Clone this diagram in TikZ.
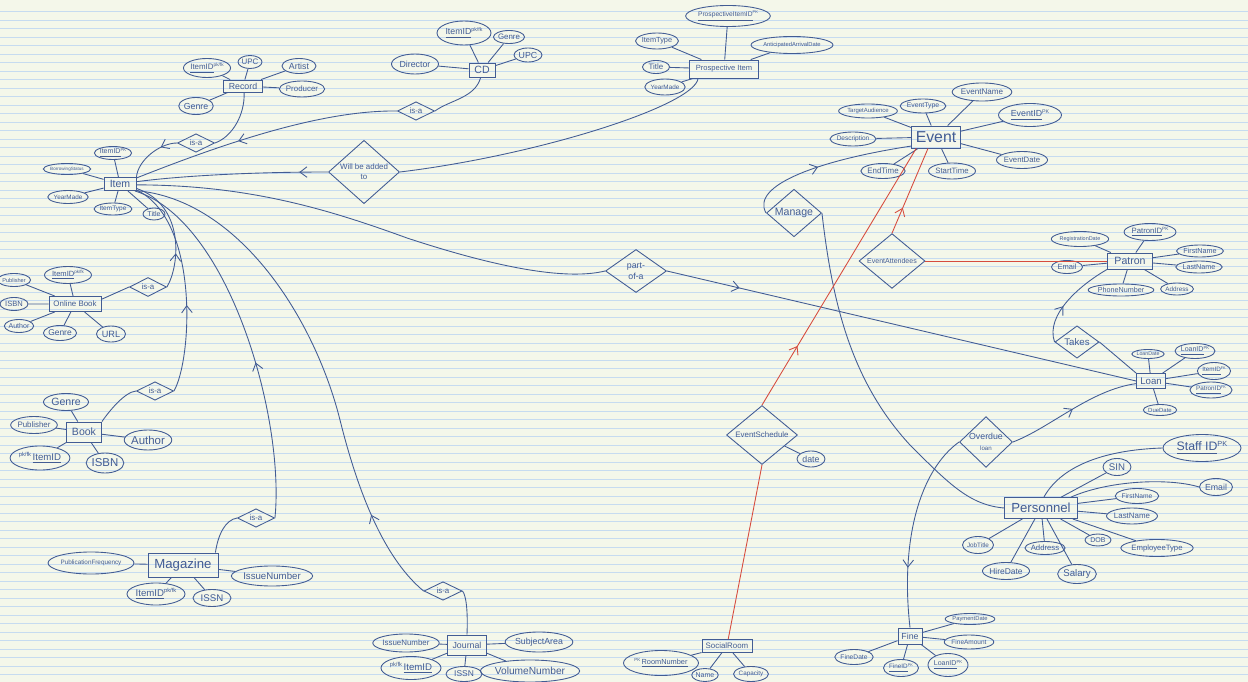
\documentclass[tikz,border=0pt]{standalone}
\usepackage{fontspec}
\usepackage{graphicx}
\setmainfont{Liberation Sans}
\usetikzlibrary{shapes.geometric,decorations.markings,arrows.meta}

\definecolor{paper}{RGB}{244,247,234}
\definecolor{rule}{RGB}{198,219,240}
\definecolor{ink}{RGB}{66,92,148}
\definecolor{redink}{RGB}{214,76,62}

\newcommand\pxu{0.02cm}
\newcommand\fs[1]{\fontsize{#1}{#1}\selectfont}
\newcommand\sk[1]{\raisebox{0.7ex}{\scalebox{0.6}{#1}}}

\tikzset{
  ent/.style n args={3}{rectangle, draw, inner sep=0pt,
    minimum width=#1*\pxu, minimum height=#2*\pxu, font=\fs{#3}},
  rel/.style n args={3}{diamond, draw, inner sep=0pt, align=center,
    minimum width=#1*\pxu, minimum height=#2*\pxu, font=\fs{#3}},
  attr/.style n args={3}{ellipse, draw, inner sep=0pt,
    minimum width=#1*\pxu, minimum height=#2*\pxu, font=\fs{#3}},
  midarrow/.style={postaction={decorate}, decoration={markings,
    mark=at position #1 with {\arrow{Straight Barb[length=4pt,width=6pt]}}}},
  midarrow/.default=0.5,
}

\begin{document}
\begin{tikzpicture}[x=0.02cm, y=-0.02cm, color=ink, line width=0.5pt]
\useasboundingbox (0,0) rectangle (1248,682);

% Paper
\fill[paper] (0,0) rectangle (1248,682);
\foreach \k in {0,...,78}
  \draw[rule, line width=0.4pt] (0,11.5+8.5*\k) -- (1248,11.5+8.5*\k);

% Entities
\node[ent={32}{13}{6}] (item) at (120,184) {Item};
\node[ent={39}{12}{5}] (record) at (243,86) {Record};
\node[ent={26}{14}{6}] (cd) at (482,70) {CD};
\node[ent={69}{18}{4.3}] (prosp) at (724,69) {Prospective Item};
\node[ent={49}{22}{9}] (event) at (936,137) {Event};
\node[ent={52}{15}{4.5}] (onlinebook) at (75,304) {Online Book};
\node[ent={35}{20}{6}] (book) at (84,432) {Book};
\node[ent={70}{24}{7.5}] (magazine) at (183,565) {Magazine};
\node[ent={39}{20}{5}] (journal) at (467,645) {Journal};
\node[ent={50}{13}{4.5}] (socialroom) at (727,646) {SocialRoom};
\node[ent={24}{16}{5}] (fine) at (910,636) {Fine};
\node[ent={73}{21}{7.5}] (personnel) at (1041,508) {Personnel};
\node[ent={45}{16}{6}] (patron) at (1130,261) {Patron};
\node[ent={29}{15}{5.5}] (loan) at (1151,381) {Loan};

% Relationships
\node[rel={37}{18}{4.5}] (isaRec) at (196,143) {is-a};
\node[rel={37}{18}{4.5}] (isaCD) at (416,111) {is-a};
\node[rel={71}{50}{4.5}] (added) at (364,172) {Will be added\\[1pt]to};
\node[rel={37}{19}{4.5}] (isaOnline) at (148,287) {is-a};
\node[rel={37}{18}{4.5}] (isaBook) at (155,391) {is-a};
\node[rel={37}{18}{4.5}] (isaMag) at (256,518) {is-a};
\node[rel={38}{18}{4.5}] (isaJournal) at (443,591) {is-a};
\node[rel={61}{43}{5}] (partof) at (636,271) {part-\\[1pt]of-a};
\node[rel={55}{33}{6}] (manage) at (794,213) {Manage};
\node[rel={66}{36}{4}] (attendees) at (892,261) {EventAttendees};
\node[rel={71}{44}{4.5}] (schedule) at (762,435) {EventSchedule};
\node[rel={44}{26}{5.5}] (takes) at (1077,342) {Takes};
\node[rel={53}{35}{5}] (overdue) at (986,442) {Overdue\\[1pt]{\fs{3.5}loan}};

% Record attributes
\node[attr={45}{19}{4.5}] (r1) at (207,68) {\underline{ItemID}\sk{pk/fk}};
\node[attr={24}{13}{4.5}] (r2) at (250,62) {UPC};
\node[attr={34}{15}{5}] (r3) at (299,66) {Artist};
\node[attr={38}{16}{4.5}] (r4) at (302,89) {Producer};
\node[attr={30}{17}{5}] (r5) at (196,106) {Genre};
\draw (record) -- (r1) (record) -- (r2) (record) -- (r3) (record) -- (r4) (record) -- (r5);

% Item attributes
\node[attr={37}{13}{4}] (i1) at (113,153) {\underline{ItemID}\sk{PK}};
\node[attr={42}{11}{2.6}] (i2) at (67,169) {BorrowingStatus};
\node[attr={32}{13}{3.6}] (i3) at (68,197) {YearMade};
\node[attr={33}{12}{3.7}] (i4) at (113,209) {ItemType};
\node[attr={22}{12}{4}] (i5) at (154,214) {Title};
\draw (item) -- (i1) (item) -- (i2) (item) -- (i3) (item) -- (i4) (item) -- (i5);

% CD attributes
\node[attr={54}{24}{5}] (c1) at (464,33) {\underline{ItemID}\sk{pk/fk}};
\node[attr={30}{13}{4.5}] (c2) at (509,37) {Genre};
\node[attr={28}{14}{5}] (c3) at (528,55) {UPC};
\node[attr={47}{20}{5}] (c4) at (415,64) {Director};
\draw (cd) -- (c1) (cd) -- (c2) (cd) -- (c3) (cd) -- (c4);

% Prospective item attributes
\node[attr={80}{21}{3.8}] (p1) at (728,16) {\underline{ProspectiveItemID}\sk{PK}};
\node[attr={37}{16}{4.2}] (p2) at (657,41) {ItemType};
\node[attr={27}{13}{4.5}] (p3) at (656,67) {Title};
\node[attr={32}{16}{3.6}] (p4) at (665,87) {YearMade};
\node[attr={82}{17}{3.3}] (p5) at (792,45) {AnticipatedArrivalDate};
\draw (prosp) -- (p1) (prosp) -- (p2) (prosp) -- (p3) (prosp) -- (p4) (prosp) -- (p5);

% Event attributes
\node[attr={53}{14}{3.4}] (e1) at (868,111) {TargetAudience};
\node[attr={40}{14}{3.9}] (e2) at (923,106) {EventType};
\node[attr={49}{18}{4.6}] (e3) at (982,92) {EventName};
\node[attr={63}{23}{5}] (e4) at (1030,115) {\underline{EventID}\sk{PK}};
\node[attr={44}{14}{3.7}] (e5) at (853,139) {Description};
\node[attr={39}{15}{4.5}] (e6) at (883,171) {EndTime};
\node[attr={46}{16}{4.4}] (e7) at (952,171) {StartTime};
\node[attr={46}{17}{4.4}] (e8) at (1022,160) {EventDate};
\draw (event) -- (e1) (event) -- (e2) (event) -- (e3) (event) -- (e4)
  (event) -- (e5) (event) -- (e6) (event) -- (e7) (event) -- (e8);

% Online book attributes
\node[attr={47}{17}{4.3}] (o1) at (68,275) {\underline{ItemID}\sk{pk/fk}};
\node[attr={32}{13}{3.2}] (o2) at (14,280) {Publisher};
\node[attr={28}{13}{4.3}] (o3) at (14,304) {ISBN};
\node[attr={28}{13}{4}] (o4) at (19,326) {Author};
\node[attr={30}{15}{4.8}] (o5) at (60,333) {Genre};
\node[attr={29}{16}{5.2}] (o6) at (111,334) {URL};
\draw (onlinebook) -- (o1) (onlinebook) -- (o2) (onlinebook) -- (o3)
  (onlinebook) -- (o4) (onlinebook) -- (o5) (onlinebook) -- (o6);

% Book attributes
\node[attr={45}{17}{6}] (b1) at (66,402) {Genre};
\node[attr={45}{17}{4.5}] (b2) at (34,425) {Publisher};
\node[attr={47}{20}{6.5}] (b3) at (148,440) {Author};
\node[attr={56}{24}{5.5}] (b4) at (40,458) {\sk{pk/fk}\,\underline{ItemID}};
\node[attr={37}{20}{6.5}] (b5) at (105,463) {ISBN};
\draw (book) -- (b1) (book) -- (b2) (book) -- (b3) (book) -- (b4) (book) -- (b5);

% Magazine attributes
\node[attr={78}{22}{3.6}] (m1) at (91,563) {PublicationFrequency};
\node[attr={58}{22}{5.5}] (m2) at (156,594) {\underline{ItemID}\sk{pk/fk}};
\node[attr={38}{17}{5.5}] (m3) at (212,598) {ISSN};
\node[attr={70}{20}{5.5}] (m4) at (272,576) {IssueNumber};
\draw (magazine) -- (m1) (magazine) -- (m2) (magazine) -- (m3) (magazine) -- (m4);

% Journal attributes
\node[attr={56}{18}{4.5}] (j1) at (406,643) {IssueNumber};
\node[attr={60}{23}{5.5}] (j2) at (411,668) {\sk{pk/fk}\,\underline{ItemID}};
\node[attr={36}{15}{4.8}] (j3) at (464,674) {ISSN};
\node[attr={61}{20}{5}] (j4) at (539,642) {SubjectArea};
\node[attr={78}{22}{5.8}] (j5) at (530,671) {VolumeNumber};
\draw (journal) -- (j1) (journal) -- (j2) (journal) -- (j3) (journal) -- (j4) (journal) -- (j5);

% Social room, schedule date
\node[attr={58}{25}{4.2}] (s1) at (661,663) {\sk{PK}\,\underline{RoomNumber}};
\node[attr={23}{13}{4}] (s2) at (705,675) {Name};
\node[attr={32}{15}{3.6}] (s3) at (751,674) {Capacity};
\node[attr={28}{16}{5}] (d1) at (811,459) {date};
\draw (socialroom) -- (s1) (socialroom) -- (s2) (socialroom) -- (s3) (schedule) -- (d1);

% Fine attributes
\node[attr={35}{15}{3.8}] (f1) at (854,657) {FineDate};
\node[attr={35}{17}{3.6}] (f2) at (901,668) {\underline{FineID}\sk{PK}};
\node[attr={39}{23}{4}] (f3) at (948,665) {\underline{LoanID}\sk{PK}};
\node[attr={41}{11}{3.3}] (f4) at (970,619) {PaymentDate};
\node[attr={42}{14}{3.7}] (f5) at (969,642) {FineAmount};
\draw (fine) -- (f1) (fine) -- (f2) (fine) -- (f3) (fine) -- (f4) (fine) -- (f5);

% Personnel attributes
\node[attr={78}{27}{7}] (n1) at (1202,448) {\underline{Staff ID}\sk{PK}};
\node[attr={28}{17}{5.5}] (n2) at (1117,467) {SIN};
\node[attr={33}{17}{5}] (n3) at (1216,487) {Email};
\node[attr={38}{15}{3.8}] (n4) at (1137,496) {FirstName};
\node[attr={42}{16}{4.5}] (n5) at (1132,516) {LastName};
\node[attr={59}{17}{4.4}] (n6) at (1157,548) {EmployeeType};
\node[attr={26}{12}{4}] (n7) at (1098,540) {DOB};
\node[attr={37}{19}{5.5}] (n8) at (1077,574) {Salary};
\node[attr={38}{13}{4.4}] (n9) at (1045,548) {Address};
\node[attr={42}{17}{4.8}] (n10) at (1006,571) {HireDate};
\node[attr={31}{17}{3.6}] (n11) at (978,545) {JobTitle};
\draw (personnel.75) .. controls (1060,468) and (1100,450) .. (n1.west);
\draw (personnel.20) .. controls (1110,480) and (1170,478) .. (n3.west);
\draw (personnel) -- (n2) (personnel) -- (n4) (personnel) -- (n5) (personnel) -- (n6)
  (personnel) -- (n7) (personnel) -- (n8) (personnel) -- (n9) (personnel) -- (n10)
  (personnel) -- (n11);

% Patron attributes
\node[attr={55}{15}{3.1}] (t1) at (1080,239) {RegistrationDate};
\node[attr={50}{17}{4.4}] (t2) at (1150,232) {\underline{PatronID}\sk{PK}};
\node[attr={42}{12}{4.1}] (t3) at (1200,251) {FirstName};
\node[attr={43}{12}{4.1}] (t4) at (1199,267) {LastName};
\node[attr={28}{12}{3.6}] (t5) at (1177,289) {Address};
\node[attr={54}{12}{4.1}] (t6) at (1121,290) {PhoneNumber};
\node[attr={31}{13}{4.3}] (t7) at (1067,267) {Email};
\draw (patron) -- (t1) (patron) -- (t2) (patron) -- (t3) (patron) -- (t4)
  (patron) -- (t5) (patron) -- (t6) (patron) -- (t7);

% Loan attributes
\node[attr={27}{9}{3}] (l1) at (1148,354) {LoanDate};
\node[attr={40}{15}{4}] (l2) at (1195,351) {\underline{LoanID}\sk{PK}};
\node[attr={33}{17}{3.6}] (l3) at (1214,371) {\underline{ItemID}\sk{FK}};
\node[attr={41}{16}{3.6}] (l4) at (1211,390) {\underline{PatronID}\sk{FK}};
\node[attr={27}{11}{3.4}] (l5) at (1160,410) {DueDate};
\draw (loan) -- (l1) (loan) -- (l2) (loan) -- (l3) (loan) -- (l4) (loan) -- (l5);

% is-a links into Item
\draw (record.-80) .. controls (245,115) and (232,137) .. (isaRec.east);
\draw[midarrow=0.3] (isaRec.west) .. controls (160,143) and (138,160) .. (item.north east);
\draw (cd.-100) .. controls (475,98) and (450,100) .. (isaCD.east);
\draw[midarrow=0.6] (isaCD.west) .. controls (320,110) and (220,145) .. (item.20);
\draw (prosp.-160) .. controls (695,105) and (540,155) .. (added.east);
\draw[midarrow=0.15] (added.west) .. controls (250,172) and (180,176) .. (item.8);
\draw (onlinebook.10) -- (isaOnline.west);
\draw[midarrow=0.3] (isaOnline.east) .. controls (180,265) and (185,205) .. (item.-15);
\draw (book.north east) .. controls (110,410) and (125,392) .. (isaBook.west);
\draw[midarrow=0.4] (isaBook.east) .. controls (192,360) and (200,220) .. (item.-20);
\draw (magazine.21) .. controls (218,535) and (225,520) .. (isaMag.west);
\draw[midarrow=0.42] (isaMag.east) .. controls (285,420) and (230,220) .. (item.-25);
\draw (journal.north) .. controls (468,610) and (466,595) .. (isaJournal.east);
\draw[midarrow=0.18] (isaJournal.west) .. controls (380,555) and (355,480) .. (340,420)
  .. controls (315,320) and (240,200) .. (item.-22);

% Item part of loan
\draw (item.-3) .. controls (250,185) and (330,210) .. (407,238)
  .. controls (480,262) and (560,282) .. (partof.west);
\draw[midarrow=0.155] (partof.east) -- (loan.west);

% Events
\draw[midarrow=0.45] (manage.west) .. controls (750,185) and (820,160) .. (event.-160);
\draw (manage.east) .. controls (832,300) and (850,380) .. (910,445)
  .. controls (950,485) and (970,505) .. (personnel.west);
\draw[redink, midarrow=0.3] (attendees.north) -- (event.-125);
\draw[redink] (attendees.east) -- (patron.west);
\draw[redink, midarrow=0.23] (schedule.north) -- (event.-150);
\draw[redink] (schedule.south) -- (socialroom.80);

% Loans
\draw[midarrow=0.4] (takes.west) .. controls (1045,315) and (1080,285) .. (patron.south west);
\draw (takes.east) -- (loan.north west);
\draw[midarrow=0.5] (overdue.east) .. controls (1050,428) and (1090,390) .. (loan.-170);
\draw[midarrow=0.7] (overdue.west) .. controls (920,470) and (900,540) .. (fine.north);

\end{tikzpicture}
\end{document}
